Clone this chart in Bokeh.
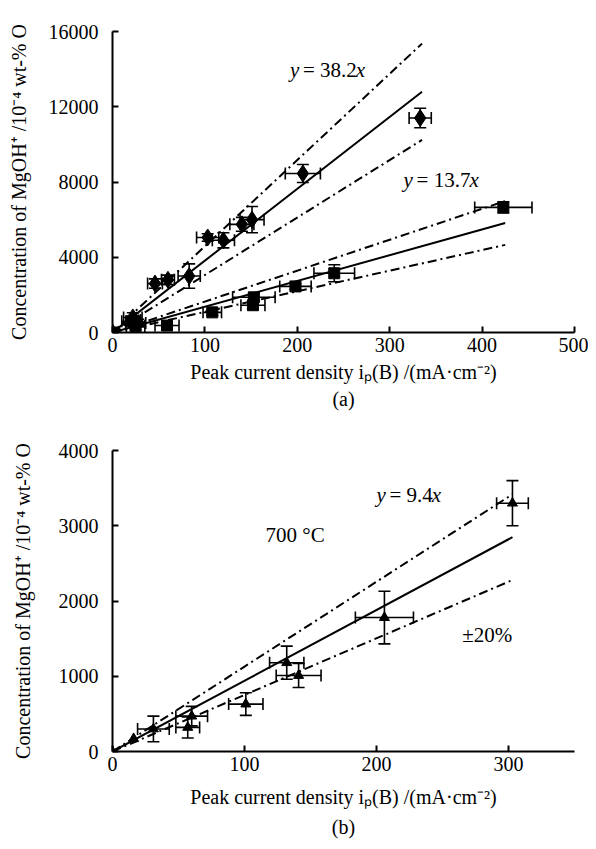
import numpy as np
from bokeh.plotting import figure
from bokeh.layouts import column
from bokeh.models import (ColumnDataSource, Whisker, TeeHead, Label, Title,
                          FixedTicker)
from bokeh.embed import file_html
from bokeh.resources import INLINE

FONT = "Liberation Serif"

# ---------------- Panel (a) data ----------------
a_dia_x = [0, 22, 28, 46, 60, 83, 103, 120, 140, 151, 206, 333]
a_dia_y = [0, 800, 500, 2600, 2800, 3000, 5050, 4900, 5750, 6000, 8450, 11400]
a_dia_xerr = [0, 10, 8, 8, 7, 12, 12, 12, 13, 13, 19, 12]
a_dia_yerr = [0, 250, 200, 250, 250, 650, 200, 400, 370, 700, 480, 520]

a_sq_x = [0, 20, 25, 59, 108, 152, 153, 198, 240, 423]
a_sq_y = [0, 600, 350, 370, 1070, 1450, 1870, 2450, 3150, 6650]
a_sq_xerr = [0, 10, 10, 13, 10, 13, 23, 17, 22, 31]
a_sq_yerr = [0, 200, 200, 150, 150, 200, 200, 150, 450, 300]

a_slopes = [38.2, 13.7]
a_xend = [335, 425]
a_band = 0.20

# ---------------- Panel (b) data ----------------
b_x = [0, 16, 31, 57, 60, 101, 132, 141, 206, 303]
b_y = [0, 170, 300, 320, 470, 630, 1180, 1010, 1780, 3300]
b_xerr = [0, 0, 12, 9, 12, 13, 13, 17, 22, 12]
b_yerr = [0, 0, 170, 140, 130, 150, 220, 160, 350, 300]

b_slope = 9.4
b_xend = 303
b_band = 0.20

a_xticks = [0, 100, 200, 300, 400, 500]
a_yticks = [0, 4000, 8000, 12000, 16000]
b_xticks = [0, 100, 200, 300]
b_yticks = [0, 1000, 2000, 3000, 4000]

YLABEL = "Concentration of MgOH\u207A /10\u207B\u2074 wt-% O"
XLABEL = "Peak current density i\u209A(B) /(mA\u00B7cm\u207B\u00B2)"


def make_fig(xr, yr, height, top, bottom, xt, yt, ystand, xstand):
    p = figure(width=588, height=height, x_range=xr, y_range=yr,
               output_backend="svg", toolbar_location=None,
               min_border_left=112, min_border_right=14,
               min_border_top=top, min_border_bottom=bottom)
    p.outline_line_color = None
    p.grid.visible = False
    p.background_fill_color = "white"
    p.border_fill_color = "white"
    p.xaxis.ticker = FixedTicker(ticks=xt)
    p.yaxis.ticker = FixedTicker(ticks=yt)
    for ax in (p.xaxis[0], p.yaxis[0]):
        ax.axis_line_width = 2
        ax.axis_line_color = "black"
        ax.major_tick_in = 6
        ax.major_tick_out = 0
        ax.major_tick_line_width = 2
        ax.minor_tick_line_color = None
        ax.major_label_text_font = FONT
        ax.major_label_text_font_size = "20px"
        ax.major_label_text_color = "black"
        ax.axis_label_text_font = FONT
        ax.axis_label_text_font_size = "20px"
        ax.axis_label_text_font_style = "normal"
        ax.axis_label_text_color = "black"
    p.xaxis.major_label_standoff = 5
    p.yaxis.major_label_standoff = 14
    p.xaxis.axis_label_standoff = xstand
    p.yaxis.axis_label_standoff = ystand
    p.xaxis.axis_label = XLABEL
    p.yaxis.axis_label = YLABEL
    return p


def add_points(p, xs, ys, xe, ye, marker, size):
    xs = np.array(xs, float); ys = np.array(ys, float)
    xe = np.array(xe, float); ye = np.array(ye, float)
    m = (xe > 0) | (ye > 0)
    src = ColumnDataSource(dict(x=xs[m], y=ys[m], yl=(ys - ye)[m], yu=(ys + ye)[m],
                                xl=(xs - xe)[m], xu=(xs + xe)[m]))
    wv = Whisker(base="x", lower="yl", upper="yu", source=src, dimension="height",
                 line_width=1.6, line_color="black", level="underlay",
                 lower_head=TeeHead(size=12, line_width=1.6),
                 upper_head=TeeHead(size=12, line_width=1.6))
    wh = Whisker(base="y", lower="xl", upper="xu", source=src, dimension="width",
                 line_width=1.6, line_color="black", level="underlay",
                 lower_head=TeeHead(size=12, line_width=1.6),
                 upper_head=TeeHead(size=12, line_width=1.6))
    p.add_layout(wv)
    p.add_layout(wh)
    p.scatter(xs, ys, marker=marker, size=size, fill_color="black",
              line_color="black")


def add_fit(p, slope, xend, band):
    p.line([0, xend], [0, slope * xend], line_color="black", line_width=2)
    for f in (1 + band, 1 - band):
        p.line([0, xend], [0, slope * f * xend], line_color="black",
               line_width=2, line_dash="9 4 2 4")


def eq_label(p, x, y, num):
    kw = dict(text_font=FONT, text_font_size="21px", text_baseline="middle",
              text_color="black")
    p.add_layout(Label(x=x, y=y, text="y", text_font_style="italic", **kw))
    p.add_layout(Label(x=x, y=y, x_offset=13, text="= " + num, **kw))
    w = 13 + (0.564 + 0.25 + 0.5 * (len(num) - 1) + 0.25) * 21 - 1
    p.add_layout(Label(x=x, y=y, x_offset=w, text="x", text_font_style="italic", **kw))


def caption(p, txt, standoff):
    p.add_layout(Title(text=txt, align="center", text_font=FONT,
                       text_font_size="20px", text_font_style="normal",
                       text_color="black", standoff=standoff), "below")


# ---------------- Panel (a) ----------------
pa = make_fig((0, 500), (0, 16000), 412, 31, 80, a_xticks, a_yticks, 16, 6)
for s, xe in zip(a_slopes, a_xend):
    add_fit(pa, s, xe, a_band)
add_points(pa, a_dia_x, a_dia_y, a_dia_xerr, a_dia_yerr, "diamond", 17)
add_points(pa, a_sq_x, a_sq_y, a_sq_xerr, a_sq_yerr, "square", 11)
eq_label(pa, 192, 13970, "38.2")
eq_label(pa, 315, 8100, "13.7")
caption(pa, "(a)", 0)

# ---------------- Panel (b) ----------------
pb = make_fig((0, 350), (0, 4000), 429, 38, 90, b_xticks, b_yticks, 22, 12)
add_fit(pb, b_slope, b_xend, b_band)
add_points(pb, b_x, b_y, b_xerr, b_yerr, "triangle", 10)
eq_label(pb, 200, 3410, "9.4")
txt = dict(text_font=FONT, text_font_size="21px", text_baseline="middle",
           text_color="black")
pb.add_layout(Label(x=116, y=2880, text="700 \u00B0C", **txt))
pb.add_layout(Label(x=265, y=1550, text="\u00B120%", **txt))
caption(pb, "(b)", 7)

layout = column(pa, pb, spacing=0)
open("out.html", "w").write(file_html(layout, INLINE))
